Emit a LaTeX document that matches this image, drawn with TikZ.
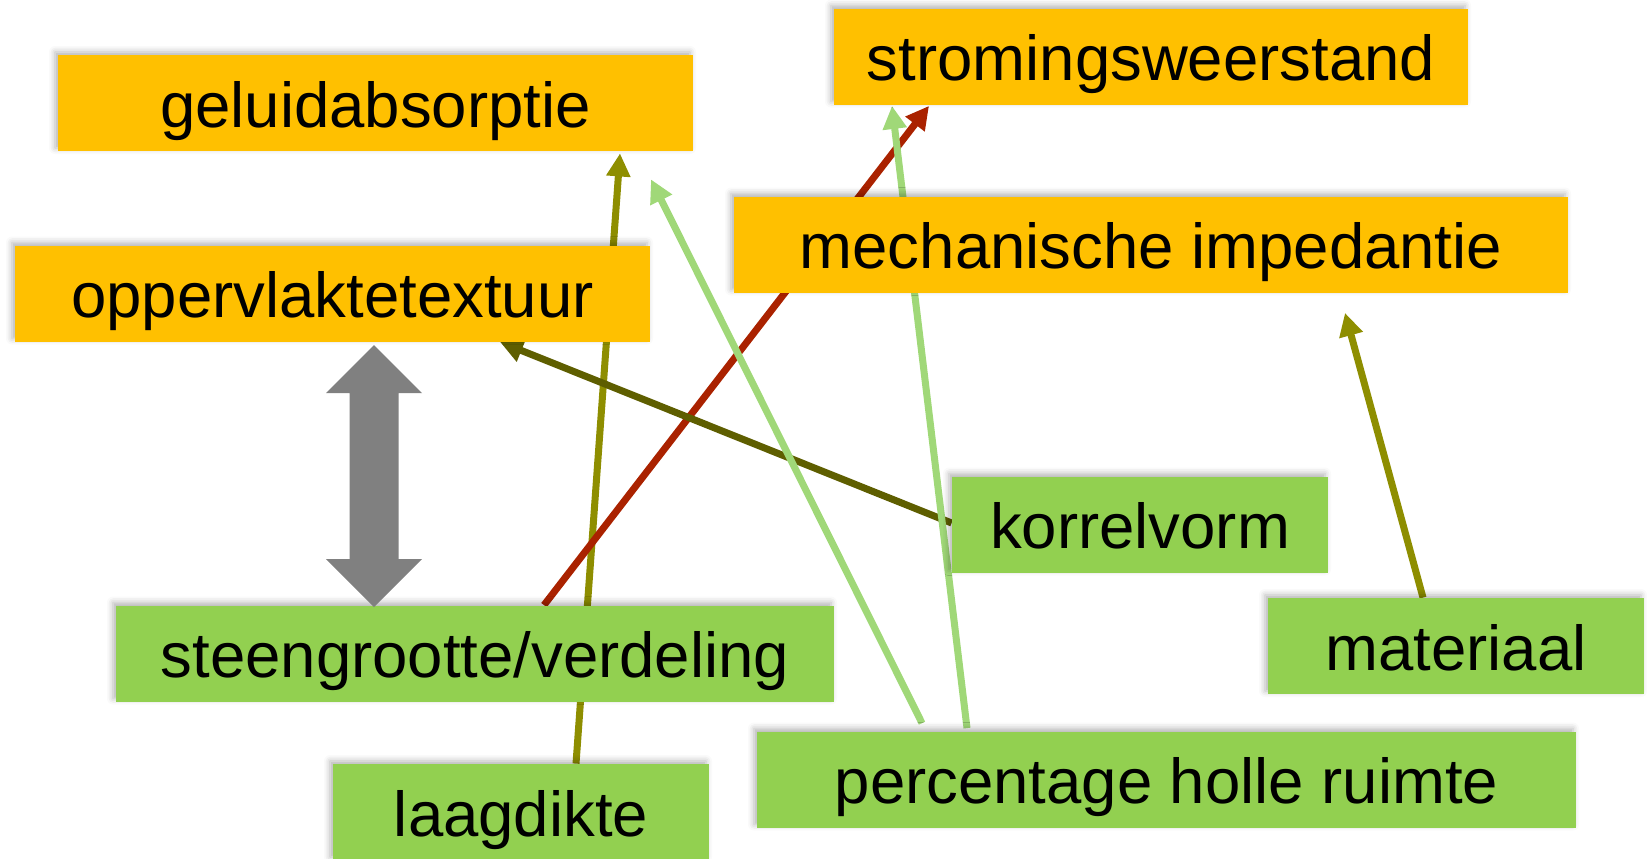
\documentclass[tikz,border=0pt]{standalone}
\usepackage{fontspec}
\setmainfont{Liberation Sans}
\usetikzlibrary{arrows.meta,shadows.blur,calc}
\pgfdeclarelayer{links}
\pgfsetlayers{links,main}
\definecolor{boxorange}{HTML}{FFC000}
\definecolor{boxgreen}{HTML}{92D050}
\definecolor{linkolive}{RGB}{142,142,0}
\definecolor{linkdark}{RGB}{94,94,0}
\definecolor{linkred}{RGB}{170,34,0}
\definecolor{linklight}{RGB}{160,216,120}
\definecolor{twoway}{HTML}{808080}
\begin{document}
\begin{tikzpicture}[x=0.5pt,y=-0.5pt,
  box/.style={rectangle, inner sep=0pt, minimum height=48pt,
    text height=24pt, text depth=0pt,
    font=\fontsize{31.75}{38}\selectfont,
    blur shadow={shadow xshift=-1.5pt, shadow yshift=1.5pt,
      shadow blur radius=3pt, shadow opacity=30}},
  effect/.style={box, fill=boxorange},
  factor/.style={box, fill=boxgreen},
  link/.style={line width=3.5pt, -{Triangle[length=11.5pt,width=11.5pt]}},
]
\useasboundingbox (0,0) rectangle (1647,858);

% properties (orange)
\node[effect, minimum width=317.5pt] (geluid) at (375.5,103) {geluidabsorptie};
\node[effect, minimum width=317pt] (stroming) at (1151,56.5) {stromingsweerstand};
\node[effect, minimum width=317.5pt] (opper) at (332.5,293.5) {oppervlaktetextuur};
\node[effect, minimum width=417pt] (mech) at (1151,244.5) {mechanische impedantie};

% factors (green)
\node[factor, minimum width=188pt] (korrel) at (1140,524.5) {korrelvorm};
\node[factor, minimum width=359pt] (steen) at (475,653.5) {steengrootte/verdeling};
\node[factor, minimum width=188pt] (mat) at (1456,646) {materiaal};
\node[factor, minimum width=188pt] (laag) at (521,812) {laagdikte};
\node[factor, minimum width=409.5pt] (perc) at (1166.5,779.5) {percentage holle ruimte};

% two-way relation between texture and grain size
\fill[twoway] (374,345) -- (422,393) -- (398.5,393) -- (398.5,559) -- (422,559)
  -- (374,607) -- (326,559) -- (349.5,559) -- (349.5,393) -- (326,393) -- cycle;

% influence arrows, drawn behind the boxes
\begin{pgfonlayer}{links}
\draw[link, linkolive] ([xshift=27.5pt]laag.north) -- ([xshift=122.25pt,yshift=-1pt]geluid.south);
\draw[link, linkred] ([xshift=34.5pt]steen.north) -- ([xshift=-111pt,yshift=-0.5pt]stroming.south);
\draw[link, linkdark] ([yshift=0.75pt]korrel.west) -- ([xshift=83.75pt]opper.south);
\draw[link, linklight] ([xshift=-122.25pt,yshift=4pt]perc.north) -- ([xshift=137.75pt,yshift=-14pt]geluid.south);
\draw[link, linklight] ([xshift=-99.75pt,yshift=1.5pt]perc.north) -- ([xshift=-129.5pt,yshift=-0.5pt]stroming.south);
\draw[link, linkolive] ([xshift=-16.5pt]mat.north) -- ([xshift=97pt,yshift=-10pt]mech.south);
\end{pgfonlayer}
\end{tikzpicture}
\end{document}
